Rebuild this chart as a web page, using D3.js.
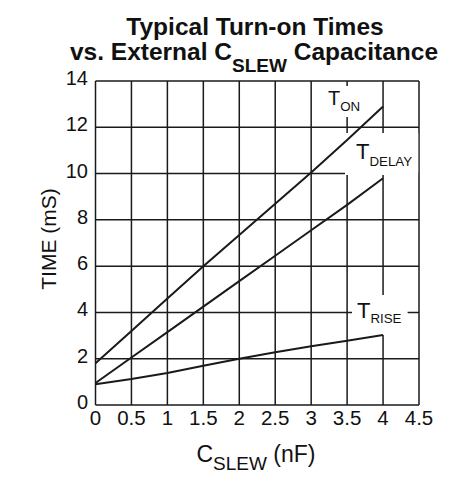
<!DOCTYPE html>
<html><head><meta charset="utf-8">
<script src="https://cdn.jsdelivr.net/npm/d3@7"></script>
<style>body{margin:0;background:#fff}svg{display:block}text{font-family:"Liberation Sans",Arial,sans-serif;fill:#111}</style>
</head><body><svg id="c" width="462" height="483"></svg>
<script>
const capValues = [0, 0.5, 1, 1.5, 2, 2.5, 3, 3.5, 4];
const tOn = [1.8, 3.2, 4.6, 6.0, 7.35, 8.7, 10.05, 11.45, 12.9];
const tDelay = [0.95, 2.05, 3.15, 4.25, 5.35, 6.45, 7.55, 8.65, 9.8];
const tRise = [0.9, 1.12, 1.38, 1.7, 2.0, 2.28, 2.54, 2.78, 3.02];
const xTicks = [0, 0.5, 1, 1.5, 2, 2.5, 3, 3.5, 4, 4.5];
const yTicks = [0, 2, 4, 6, 8, 10, 12, 14];
const seriesNames = [["T","ON"],["T","DELAY"],["T","RISE"]];

const svg = d3.select("#c");
const x = d3.scaleLinear().domain([0, 4.5]).range([95.5, 419]);
const y = d3.scaleLinear().domain([0, 14]).range([405, 81]);
const ink = "#1a1a1a";

// grid
const g = svg.append("g");
g.selectAll(".vg").data(xTicks).join("line")
  .attr("x1", d => x(d)).attr("x2", d => x(d)).attr("y1", y(0)).attr("y2", y(14))
  .attr("stroke", ink).attr("stroke-width", 1.5);
g.selectAll(".hg").data(yTicks).join("line")
  .attr("y1", d => y(d)).attr("y2", d => y(d)).attr("x1", x(0)).attr("x2", x(4.5))
  .attr("stroke", ink).attr("stroke-width", 1.5);

// tick labels
svg.append("g").selectAll("text").data(yTicks).join("text")
  .attr("x", 88).attr("y", d => y(d) + 4).attr("text-anchor", "end")
  .attr("font-size", 20).text(d => d);
svg.append("g").selectAll("text").data(xTicks).join("text")
  .attr("x", d => x(d)).attr("y", 425).attr("text-anchor", "middle")
  .attr("font-size", 20.5).text(d => d);

// labels with white background
const labelLayer = svg.append("g");
function label(tx, ty, main, sub, size, subDy, pad) {
  const t = labelLayer.append("text").attr("x", tx).attr("y", ty).attr("font-size", size);
  t.append("tspan").text(main);
  t.append("tspan").attr("dy", subDy).attr("font-size", 13.3).text(sub);
  const b = t.node().getBBox();
  labelLayer.insert("rect", () => t.node()).attr("x", b.x - pad[0]).attr("y", b.y - pad[1])
    .attr("width", b.width + pad[0] + pad[2]).attr("height", b.height + pad[1] + pad[3]).attr("fill", "#fff");
}
label(328, 105, seriesNames[0][0], seriesNames[0][1], 20, 6, [6, 1, 6, 3]);
label(356, 159, seriesNames[1][0], seriesNames[1][1], 22, 7, [11, 6, 6, 6]);
label(357, 318, seriesNames[2][0], seriesNames[2][1], 22, 5, [5, 3, 6, 9]);

// series lines
const line = d3.line().x((d, i) => x(capValues[i])).y(d => y(d));
const series = [tOn, tDelay, tRise];
svg.append("g").selectAll("path").data(series).join("path")
  .attr("d", d => line(d)).attr("fill", "none").attr("stroke", ink).attr("stroke-width", 2);

// title
svg.append("text").attr("x", 255).attr("y", 35).attr("text-anchor", "middle")
  .attr("font-size", 24.5).attr("font-weight", "bold").text("Typical Turn-on Times");
const t2 = svg.append("text").attr("x", 254).attr("y", 60).attr("text-anchor", "middle")
  .attr("font-size", 24.5).attr("font-weight", "bold");
t2.append("tspan").text("vs. External C");
t2.append("tspan").attr("dy", 12).attr("font-size", 19).text("SLEW");
t2.append("tspan").attr("dy", -12).text(" Capacitance");

// axis titles
const xt = svg.append("text").attr("x", 256).attr("y", 462).attr("text-anchor", "middle").attr("font-size", 23);
xt.append("tspan").text("C");
xt.append("tspan").attr("dy", 8).attr("font-size", 19).text("SLEW");
xt.append("tspan").attr("dy", -8).text(" (nF)");

svg.append("text").attr("transform", "translate(56,239) rotate(-90)").attr("text-anchor", "middle")
  .attr("font-size", 21).text("TIME (mS)");
</script></body></html>
